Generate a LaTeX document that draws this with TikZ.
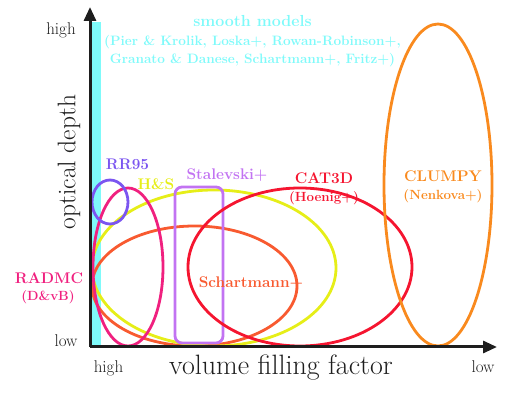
\documentclass[tikz,border=0pt]{standalone}
\usepackage{fontspec}
\usetikzlibrary{arrows.meta}
\definecolor{cyanc}{HTML}{7FFAFA}
\definecolor{rrc}{HTML}{7B55F0}
\definecolor{hsc}{HTML}{E6EE18}
\definecolor{pinkc}{HTML}{F0207F}
\definecolor{stalc}{HTML}{C273F2}
\definecolor{catc}{HTML}{F51530}
\definecolor{schc}{HTML}{F85A30}
\definecolor{clc}{HTML}{F98A1E}
\definecolor{axc}{HTML}{1E1E1E}
\begin{document}
\begin{tikzpicture}[x=1pt,y=-1pt,
  curve/.style={line width=2.8pt},
  lab/.style={font=\bfseries\fontsize{15.4}{15.4}\selectfont,inner sep=0pt},
  sub/.style={font=\bfseries\fontsize{13.3}{13.3}\selectfont,inner sep=0pt},
  tick/.style={font=\fontsize{17}{17}\selectfont,inner sep=0pt,text=axc},
  axlab/.style={font=\fontsize{28}{28}\selectfont,inner sep=0pt,text=axc}]
\useasboundingbox (0,0) rectangle (507,398);
% smooth models bar
\fill[cyanc] (92,22) rectangle (101,347);
% curves
\draw[curve,schc] (194.5,286) ellipse [x radius=102.5, y radius=60];
\draw[curve,hsc] (214,268) ellipse [x radius=122, y radius=78];
\draw[curve,stalc,rounded corners=7pt] (175,187) rectangle (223,343);
\draw[curve,catc] (300,267) ellipse [x radius=112, y radius=79];
\draw[curve,pinkc] (128,267) ellipse [x radius=35, y radius=79];
\draw[curve,rrc] (110,202) ellipse [x radius=18, y radius=22];
\draw[curve,clc] (438,185) ellipse [x radius=54, y radius=161];
% axes
\coordinate (O) at (90,347);
\coordinate (Xend) at (497,347);
\coordinate (Yend) at (90,7);
\draw[line width=3pt,axc,-{Triangle[length=14pt,width=12pt]}] (O) -- (Xend);
\draw[line width=3pt,axc,-{Triangle[length=14pt,width=12pt]}] (O) -- (Yend);
% axis labels
\node[tick] (yhigh) at (61,30) {high};
\node[tick] (ylow) at (66,341) {low};
\node[tick] (xhigh) at (108.5,368) {high};
\node[tick] (xlow) at (483,367) {low};
\node[axlab] (xlab) at (281,368) {volume filling factor};
\node[axlab,rotate=90,font=\fontsize{25.5}{25.5}\selectfont] (ylab) at (69,162) {optical depth};
% smooth models
\node[lab,text=cyanc,font=\bfseries\fontsize{16}{16}\selectfont] (sm) at (252.5,21) {smooth models};
\node[sub,text=cyanc,font=\bfseries\fontsize{13.6}{13.6}\selectfont] (sm2) at (252.5,42) {(Pier \& Krolik, Loska+, Rowan-Robinson+,};
\node[sub,text=cyanc,font=\bfseries\fontsize{13.6}{13.6}\selectfont] (sm3) at (252.5,60) {Granato \& Danese, Schartmann+, Fritz+)};
% model labels
\node[lab,text=rrc] (rr) at (127.5,164) {RR95};
\node[lab,text=hsc] (hs) at (156,184) {H\&S};
\node[lab,text=stalc] (st) at (227,175) {Stalevski+};
\node[lab,text=catc] (cat) at (324,178) {CAT3D};
\node[sub,text=catc] (cat2) at (324,198) {(Hoenig+)};
\node[lab,text=clc] (cl) at (443,176) {CLUMPY};
\node[sub,text=clc] (cl2) at (443,196) {(Nenkova+)};
\node[lab,text=pinkc] (rad) at (49,278) {RADMC};
\node[sub,text=pinkc] (rad2) at (48,297) {(D\&vB)};
\node[lab,text=schc] (sch) at (251,283) {Schartmann+};
\end{tikzpicture}
\end{document}
